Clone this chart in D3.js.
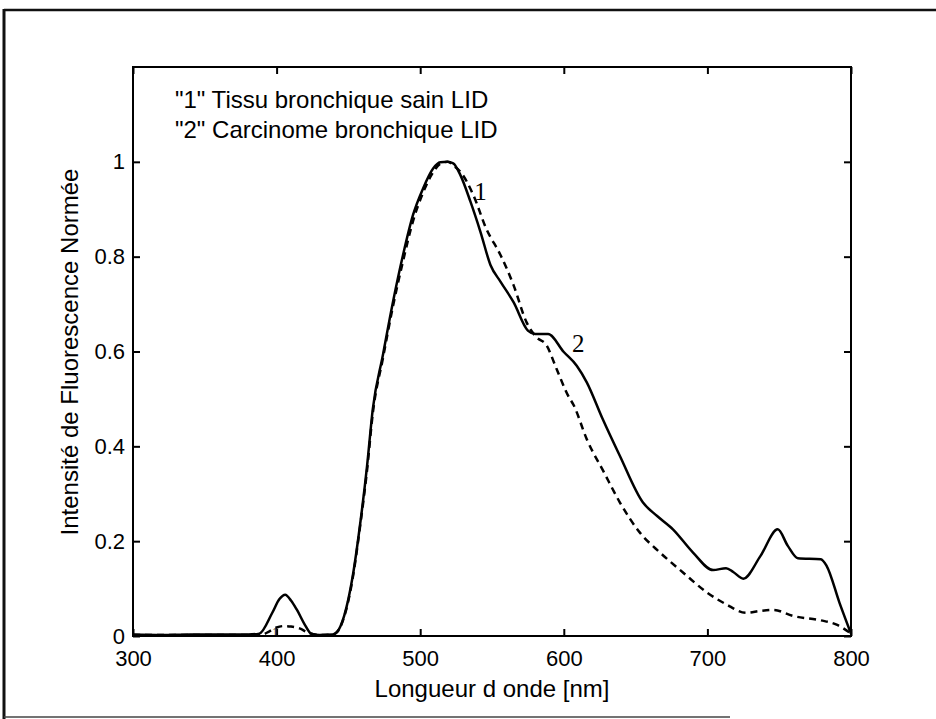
<!DOCTYPE html>
<html><head><meta charset="utf-8">
<script src="https://cdn.jsdelivr.net/npm/d3@7"></script>
<style>body{margin:0;background:#fff}svg{display:block}</style>
</head><body>
<script>
// ---- data ----
const xTicks = [300, 400, 500, 600, 700, 800];
const yTicks = [0, 0.2, 0.4, 0.6, 0.8, 1];
const yTickLabels = ["0", "0.2", "0.4", "0.6", "0.8", "1"];
const legendLines = ["\"1\" Tissu bronchique sain LID", "\"2\" Carcinome bronchique LID"];
// series "2" : Carcinome bronchique (solid)
const wlCarcinome = [300,320,340,360,380,388,397,402,406,410,414,420,424,430,439,442,447,453,458,463,467,474,481,488,495,502,509,514,519,523,528,535,542,549,556,565,575,580,589,600,609,616,627,639,655,665,676,690,704,713,718,725,737,749,756,763,779,783,792,800];
const intCarcinome = [0.003,0.002,0.003,0.003,0.003,0.005,0.049,0.078,0.087,0.075,0.056,0.022,0.005,0.002,0.003,0.008,0.042,0.126,0.232,0.359,0.479,0.592,0.704,0.803,0.888,0.944,0.986,0.999,1.0,0.997,0.972,0.916,0.852,0.782,0.747,0.704,0.644,0.637,0.637,0.599,0.570,0.535,0.458,0.380,0.282,0.253,0.225,0.176,0.139,0.143,0.135,0.121,0.169,0.225,0.190,0.164,0.162,0.148,0.070,0.005];
// series "1" : Tissu bronchique sain (dashed)
const wlSain = [300,320,340,360,380,390,395,400,405,410,416,422,430,440,442,447,453,458,463,467,474,481,488,495,502,509,514,519,524,528,537,546,556,565,574,581,588,595,603,607,616,628,639,653,667,683,700,713,727,737,746,760,779,790,800];
const intSain = [0.002,0.002,0.002,0.002,0.002,0.003,0.010,0.018,0.021,0.020,0.016,0.007,0.002,0.004,0.008,0.040,0.122,0.228,0.350,0.470,0.585,0.695,0.790,0.875,0.935,0.978,0.996,1.0,0.990,0.979,0.930,0.859,0.803,0.740,0.662,0.630,0.613,0.563,0.507,0.486,0.415,0.345,0.282,0.218,0.176,0.134,0.091,0.067,0.049,0.053,0.055,0.042,0.033,0.024,0.005];

// ---- layout ----
const W = 936, H = 719;
const L = 133, R = 851, T = 67, B = 636;
const svg = d3.select("body").append("svg").attr("width", W).attr("height", H);
const x = d3.scaleLinear().domain([300, 800]).range([L, R]);
const y = d3.scaleLinear().domain([0, 1.2]).range([B, T]);
const font = "Liberation Sans, Arial, sans-serif";

// outer frame
svg.append("line").attr("x1",4).attr("x2",W).attr("y1",10).attr("y2",10).attr("stroke","#111").attr("stroke-width",2.5);
svg.append("line").attr("x1",4).attr("x2",4).attr("y1",9).attr("y2",H).attr("stroke","#111").attr("stroke-width",3);
svg.append("line").attr("x1",4).attr("x2",730).attr("y1",717).attr("y2",717).attr("stroke","#444").attr("stroke-width",1.5);

// axes box
svg.append("rect").attr("x",L).attr("y",T).attr("width",R-L).attr("height",B-T)
  .attr("fill","none").attr("stroke","#000").attr("stroke-width",2);

const tl = 7;
const gx = svg.append("g").attr("transform",`translate(0,${B})`)
  .call(d3.axisBottom(x).tickValues(xTicks).tickSize(-tl).tickPadding(14).tickFormat(d3.format("d")));
const gxt = svg.append("g").attr("transform",`translate(0,${T})`)
  .call(d3.axisTop(x).tickValues(xTicks).tickSize(-tl).tickFormat(""));
const gy = svg.append("g").attr("transform",`translate(${L},0)`)
  .call(d3.axisLeft(y).tickValues(yTicks).tickSize(-tl).tickPadding(8).tickFormat((d,i)=>yTickLabels[i]));
const gyr = svg.append("g").attr("transform",`translate(${R},0)`)
  .call(d3.axisRight(y).tickValues(yTicks).tickSize(-tl).tickFormat(""));
[gx,gxt,gy,gyr].forEach(g=>{
  g.select(".domain").remove();
  g.selectAll(".tick line").attr("stroke","#000").attr("stroke-width",2);
  g.selectAll("text").attr("font-family",font).attr("font-size",22).attr("fill","#000");
});

// curves
const line = d3.line().curve(d3.curveMonotoneX);
const ptsC = wlCarcinome.map((w,i)=>[x(w), y(intCarcinome[i])]);
const ptsS = wlSain.map((w,i)=>[x(w), y(intSain[i])]);
svg.append("path").attr("d", line(ptsS)).attr("fill","none").attr("stroke","#000")
  .attr("stroke-width",2.5).attr("stroke-dasharray","7,5");
svg.append("path").attr("d", line(ptsC)).attr("fill","none").attr("stroke","#000")
  .attr("stroke-width",2.5);

// legend text
legendLines.forEach((t,i)=>{
  svg.append("text").attr("x",175).attr("y",108+i*30).text(t)
    .attr("font-family",font).attr("font-size",24).attr("fill","#000");
});

// curve labels
const serif = "Liberation Serif, Times New Roman, serif";
svg.append("text").attr("x",x(542)).attr("y",y(0.92)).text("1").attr("font-family",serif).attr("font-size",25).attr("text-anchor","middle");
svg.append("text").attr("x",x(610)).attr("y",y(0.60)).text("2").attr("font-family",serif).attr("font-size",25).attr("text-anchor","middle");
svg.append("text").attr("x",x(399)).attr("y",y(0.0)).text("1").attr("font-family",serif).attr("font-size",12).attr("text-anchor","middle");

// axis titles
svg.append("text").attr("x",492).attr("y",697).attr("text-anchor","middle").text("Longueur d onde [nm]")
  .attr("font-family",font).attr("font-size",24);
svg.append("text").attr("transform","translate(78,352) rotate(-90)").attr("text-anchor","middle")
  .text("Intensité de Fluorescence Normée").attr("font-family",font).attr("font-size",24);
</script>
</body></html>
